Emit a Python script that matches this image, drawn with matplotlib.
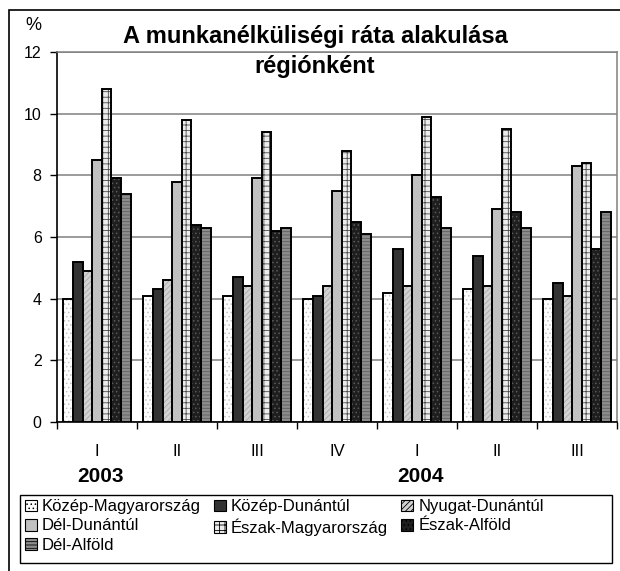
import numpy as np
import matplotlib
matplotlib.use('Agg')
import matplotlib.pyplot as plt
from matplotlib.patches import Rectangle, Patch
from matplotlib.transforms import blended_transform_factory

plt.rcParams['font.family'] = ['Liberation Sans', 'DejaVu Sans']
plt.rcParams['hatch.linewidth'] = 0.6

quarters = ['I', 'II', 'III', 'IV', 'I', 'II', 'III']
years = ['2003', '2004']
year_pos = [0, 4]

regions = ['Közép-Magyarország', 'Közép-Dunántúl', 'Nyugat-Dunántúl',
           'Dél-Dunántúl', 'Észak-Magyarország', 'Észak-Alföld', 'Dél-Alföld']

kozep_magyarorszag = [4.0, 4.1, 4.1, 4.0, 4.2, 4.3, 4.0]
kozep_dunantul = [5.2, 4.3, 4.7, 4.1, 5.6, 5.4, 4.5]
nyugat_dunantul = [4.9, 4.6, 4.4, 4.4, 4.4, 4.4, 4.1]
del_dunantul = [8.5, 7.8, 7.9, 7.5, 8.0, 6.9, 8.3]
eszak_magyarorszag = [10.8, 9.8, 9.4, 8.8, 9.9, 9.5, 8.4]
eszak_alfold = [7.9, 6.4, 6.2, 6.5, 7.3, 6.8, 5.6]
del_alfold = [7.4, 6.3, 6.3, 6.1, 6.3, 6.3, 6.8]

series = [kozep_magyarorszag, kozep_dunantul, nyugat_dunantul, del_dunantul,
          eszak_magyarorszag, eszak_alfold, del_alfold]

# face colour, hatch, hatch colour
styles = [('white', '....', '#c4c4c4'),
          ('#333333', None, None),
          ('#d2d2d2', '//////', '#a8a8a8'),
          ('#c0c0c0', None, None),
          ('#ececec', '+++', '#4a4a4a'),
          ('#1e1e1e', '....', '#5a5a5a'),
          ('#8c8c8c', '-----', '#5e5e5e')]

fig = plt.figure(figsize=(6.2, 5.71), dpi=100)
ax = fig.add_axes([57/620, 1-422/571, 560/620, 370/571])

x = np.arange(len(quarters))
w = 0.12
for i, vals in enumerate(series):
    fc, h, hc = styles[i]
    pos = x + (i - 3) * w
    ax.bar(pos, vals, width=w, color=fc, hatch=h, edgecolor=hc if hc else fc,
           linewidth=0, zorder=3)
    ax.bar(pos, vals, width=w, facecolor='none', edgecolor='black',
           linewidth=1.4, zorder=4)

ax.set_ylim(0, 12)
ax.set_xlim(-0.5, 6.5)
ax.set_yticks(np.arange(0, 13, 2))
ax.yaxis.grid(True, color='#808080', linewidth=1.1, zorder=0)
ax.set_axisbelow(True)
ax.tick_params(axis='y', labelsize=11.5, length=5, width=1, direction='out', pad=6)

ax.set_xticks(x)
ax.set_xticklabels(quarters)
ax.tick_params(axis='x', which='major', length=0, pad=16, labelsize=12)
ax.set_xticks(np.arange(-0.5, 7, 1), minor=True)
ax.tick_params(axis='x', which='minor', length=5, width=1, direction='out')

for s in ['left', 'bottom']:
    ax.spines[s].set_color('black')
    ax.spines[s].set_linewidth(1.2)
for s in ['right', 'top']:
    ax.spines[s].set_color('#808080')
    ax.spines[s].set_linewidth(1.1)

trans = blended_transform_factory(ax.transData, fig.transFigure)
for yr, p in zip(years, year_pos):
    ax.text(p + 0.05, 1 - 477/571, yr, transform=trans, ha='center', va='center',
            fontsize=15, fontweight='bold')

fig.text(315/620, 1 - 36/571, 'A munkanélküliségi ráta alakulása', ha='center',
         va='center', fontsize=17, fontweight='bold')
fig.text(315/620, 1 - 66/571, 'régiónként', ha='center', va='center',
         fontsize=17, fontweight='bold')
fig.text(33/620, 1 - 25/571, '%', ha='center', va='center', fontsize=13)

# outer frame
fig.patches.append(Rectangle((9/620, -0.1), 1.2, 1.1 - 9.5/571, fill=False,
                             edgecolor='black', linewidth=1.2,
                             transform=fig.transFigure, figure=fig))
# legend frame
fig.patches.append(Rectangle((20/620, 1 - 563/571), 592/620, 68/571, fill=False,
                             edgecolor='black', linewidth=1.0,
                             transform=fig.transFigure, figure=fig))

handles = []
for i in range(len(regions)):
    fc, h, hc = styles[i]
    handles.append(Patch(facecolor=fc, hatch=h, edgecolor='black', linewidth=0.8))
order = [0, 3, 6, 1, 4, 2, 5]
leg = fig.legend([handles[k] for k in order], [regions[k] for k in order],
                 loc='upper left', ncol=3,
                 bbox_to_anchor=(22/620, 1 - 496/571),
                 fontsize=12, frameon=False, borderpad=0.2,
                 handlelength=0.7, handleheight=0.7, handletextpad=0.3,
                 labelspacing=0.25, borderaxespad=0, columnspacing=0.8)

fig.savefig('out.png', dpi=100)
